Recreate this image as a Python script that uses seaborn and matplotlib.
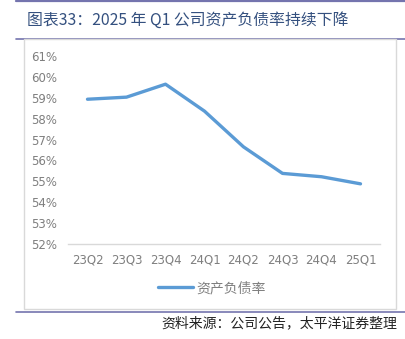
import matplotlib
matplotlib.use("Agg")
import matplotlib.pyplot as plt
import matplotlib.ticker as mticker
from matplotlib.lines import Line2D
from matplotlib.patches import Rectangle
import pandas as pd
import seaborn as sns

# Quarterly asset-liability ratio (%)
quarters = ["23Q2", "23Q3", "23Q4", "24Q1", "24Q2", "24Q3", "24Q4", "25Q1"]
debt_ratio = [58.93, 59.03, 59.65, 58.36, 56.65, 55.38, 55.22, 54.88]
y_ticks = [52, 53, 54, 55, 56, 57, 58, 59, 60, 61]

series_name = "资产负债率"
title_text = "图表33：2025 年 Q1 公司资产负债率持续下降"
source_text = "资料来源：公司公告，太平洋证券整理"

sns.set_style("white")
plt.rcParams["font.family"] = ["Noto Sans CJK SC", "DejaVu Sans"]

W, H = 405, 339
fig = plt.figure(figsize=(W / 100, H / 100), dpi=100)
fig.patch.set_facecolor("white")

def fx(px):
    return px / W

def fy(py):
    return 1 - py / H

rule_color = "#7474ae"
# header and footer rules
for y in (1.2, 38.5, 312):
    fig.add_artist(Line2D([fx(16), 1.0], [fy(y), fy(y)], color=rule_color,
                          lw=1.6 if y < 5 else 1.2, transform=fig.transFigure))
# framed chart area
fig.add_artist(Rectangle((fx(24), fy(309)), fx(396) - fx(24), fy(38.5) - fy(309),
                         transform=fig.transFigure, facecolor="white",
                         edgecolor="#d9d9d9", lw=1.0, zorder=2))

fig.text(fx(27), fy(20), title_text, color="#34507f", fontsize=11.4,
         ha="left", va="center")
fig.text(fx(397), fy(323), source_text, color="#222222", fontsize=10,
         ha="right", va="center", style="italic")

ax = fig.add_axes([fx(68), fy(244), fx(380) - fx(68), fy(56) - fy(244)], zorder=3)
ax.patch.set_alpha(0)

df = pd.DataFrame({"quarter": quarters, "ratio": debt_ratio})
df["pos"] = range(len(quarters))
sns.lineplot(data=df, x="pos", y="ratio", ax=ax, color="#5b9bd5", lw=2.4,
             label=series_name, legend=False)

ax.set_xlim(-0.5, len(quarters) - 0.5)
ax.set_ylim(y_ticks[0], y_ticks[-1])
ax.set_xticks(range(len(quarters)))
ax.set_xticklabels(quarters)
ax.set_yticks(y_ticks)
ax.yaxis.set_major_formatter(mticker.FuncFormatter(lambda v, _: f"{v:.0f}%"))
ax.set_xlabel("")
ax.set_ylabel("")

for side in ("left", "right", "top"):
    ax.spines[side].set_visible(False)
ax.spines["bottom"].set_color("#d9d9d9")
ax.spines["bottom"].set_linewidth(1.0)
ax.tick_params(axis="both", length=0, colors="#7f7f7f", labelsize=8.5)
ax.tick_params(axis="y", pad=8)
ax.tick_params(axis="x", pad=7)
for lbl in ax.get_xticklabels() + ax.get_yticklabels():
    lbl.set_family(["DejaVu Sans"])

handles, labels = ax.get_legend_handles_labels()
leg = fig.legend(handles, labels, loc="center", bbox_to_anchor=(fx(212), fy(288)),
                 frameon=False, fontsize=10, handlelength=2.5, handletextpad=0.3,
                 labelcolor="#7f7f7f")
leg.set_zorder(4)

fig.savefig("out.png", dpi=100, facecolor="white")
